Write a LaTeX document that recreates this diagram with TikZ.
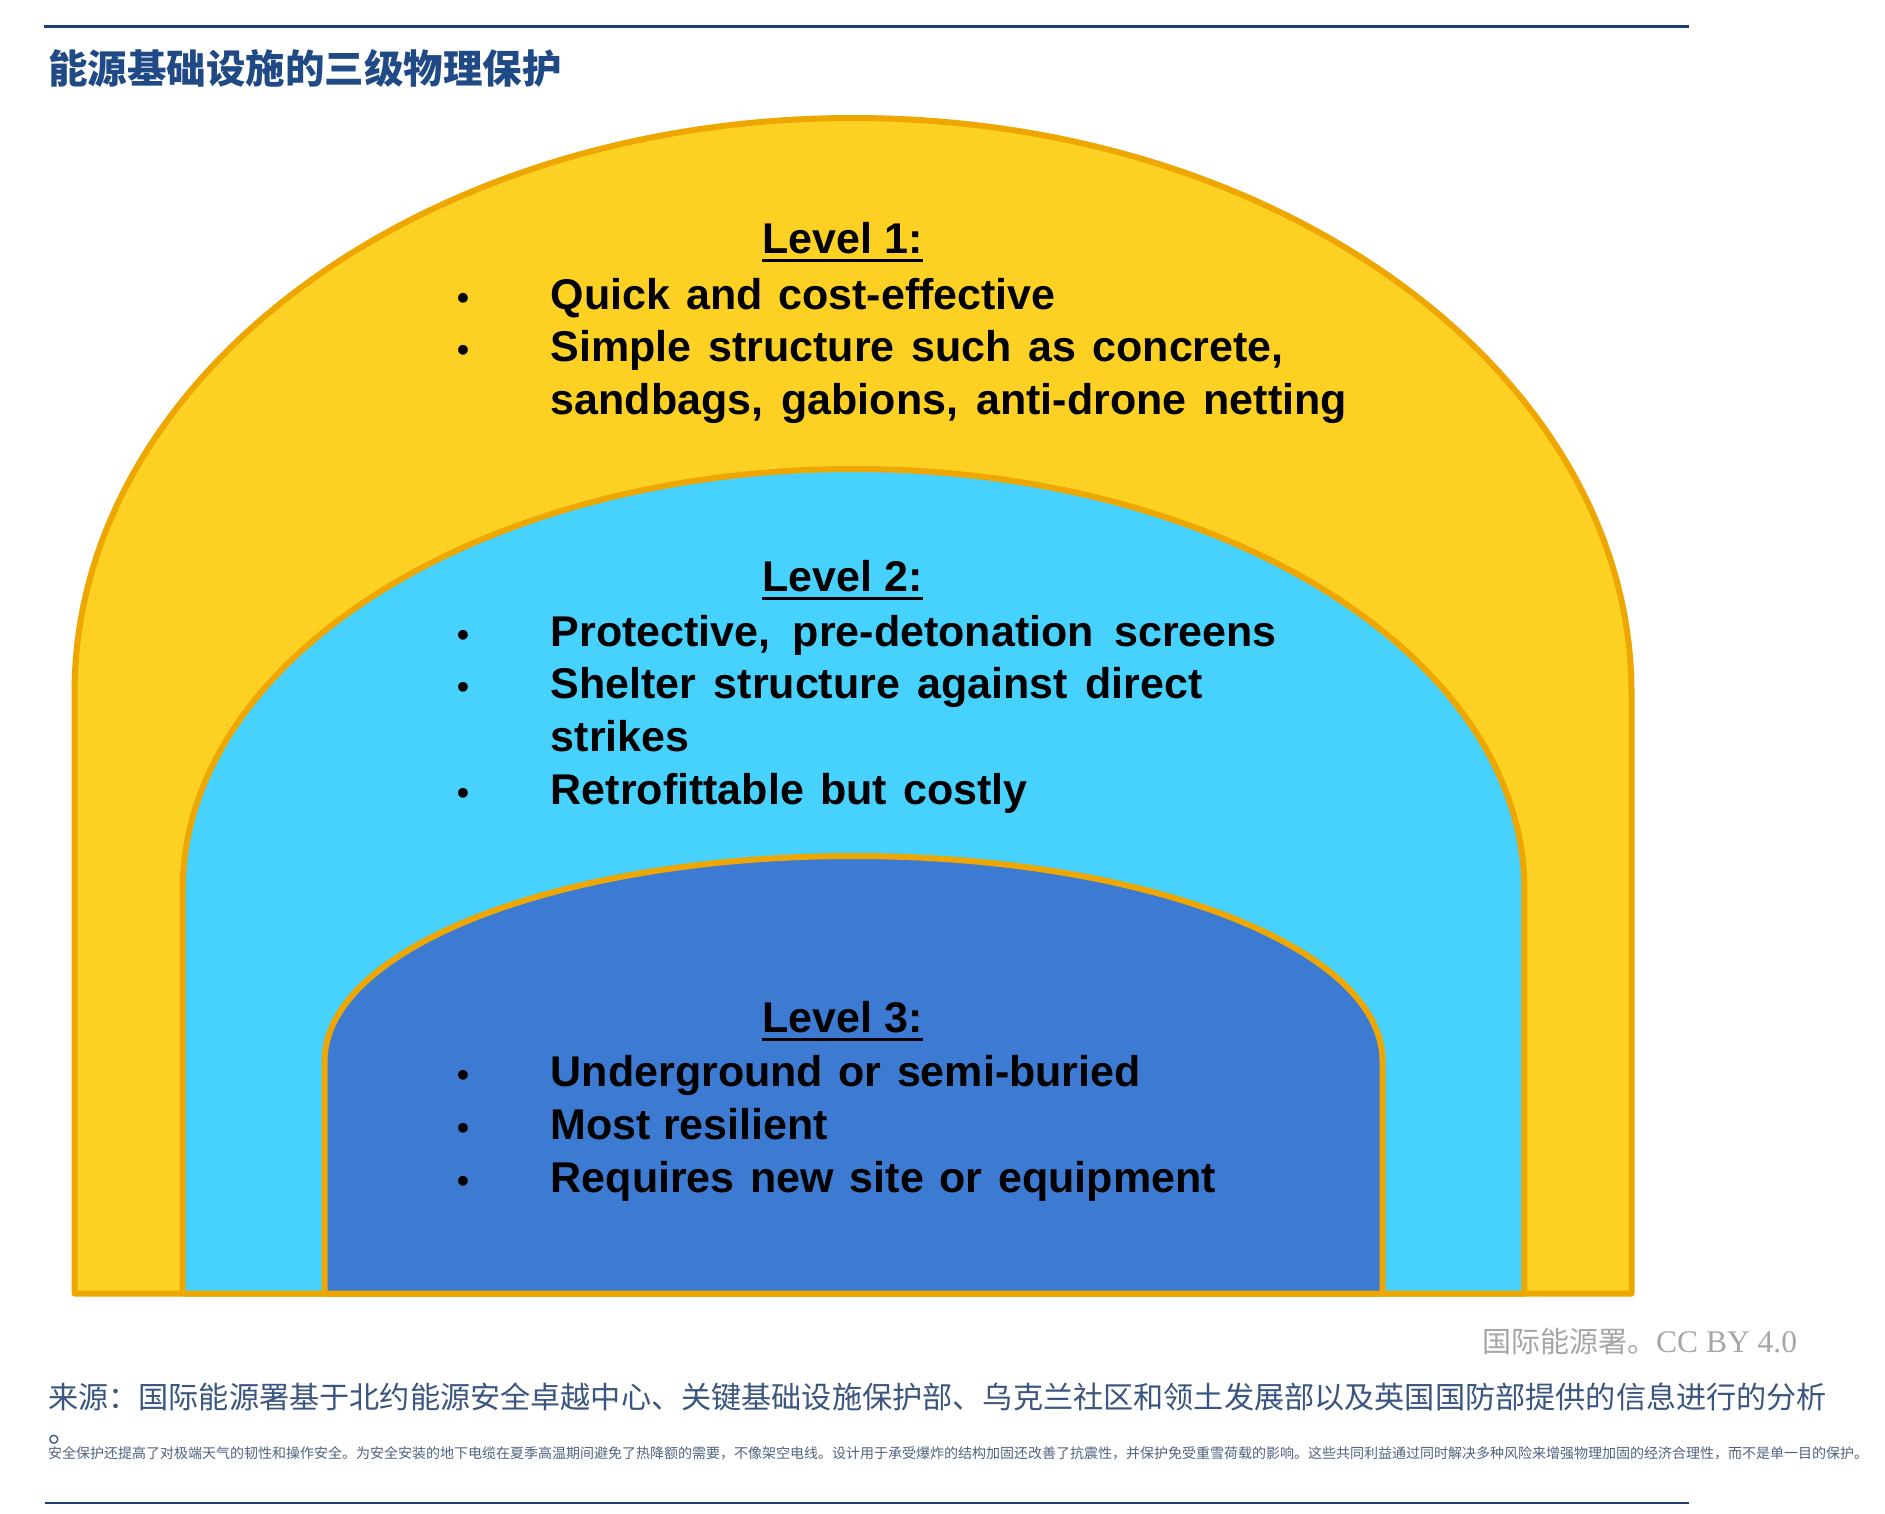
\documentclass[tikz,border=0pt]{standalone}
\usepackage{fontspec}
\setmainfont{Liberation Sans}
\newfontfamily\cjk{Noto Sans CJK SC}
\newfontfamily\seriflat{Liberation Serif}
\definecolor{yel}{HTML}{FCD123}
\definecolor{cyn}{HTML}{47D2FD}
\definecolor{blu}{HTML}{3D7BD3}
\definecolor{org}{HTML}{EEA700}
\definecolor{navy}{HTML}{1F4A85}
\definecolor{rulec}{HTML}{1F3F73}
\definecolor{srcc}{HTML}{3A5580}
\definecolor{smallc}{HTML}{51627F}
\definecolor{greyc}{HTML}{A6A6A6}
\begin{document}
\begin{tikzpicture}[x=1pt,y=1pt,
  arch/.style={draw=org, line width=6pt, line join=round},
  txt/.style={inner sep=0pt, font=\fontsize{43}{52}\selectfont\bfseries, text=black},
  hdr/.style={txt, anchor=base},
  itm/.style={txt, anchor=base west},
  bul/.style={inner sep=0pt, anchor=base, font=\fontsize{34}{40}\selectfont\bfseries, text=black},
  uline/.style={line width=3pt, black}]
\useasboundingbox (0,0) rectangle (1885,-1513);
\fill[white] (0,0) rectangle (1885,-1513);

% rules
\draw[rulec, line width=2.5pt] (44,-26.4) -- (1689,-26.4);
\draw[rulec, line width=2.5pt] (44.5,-1502.8) -- (1689,-1502.8);

% title
\node[anchor=base west, inner sep=0pt, text=navy, font=\cjk\bfseries\fontsize{39.5}{44}\selectfont] (title) at (48,-83.5) {能源基础设施的三级物理保护};

% arches
\path[arch, fill=yel] (74.5,-1293.6) -- (74.5,-693) arc[start angle=180, end angle=0, x radius=778.5pt, y radius=575pt] -- (1631.5,-1293.6) -- cycle;
\path[arch, fill=cyn] (182.7,-1293.6) -- (182.7,-890) arc[start angle=180, end angle=0, x radius=670.85pt, y radius=421pt] -- (1524.4,-1293.6) -- cycle;
\path[arch, fill=blu] (324.6,-1293.6) -- (324.6,-1061) arc[start angle=180, end angle=0, x radius=528.95pt, y radius=205pt] -- (1382.5,-1293.6) -- cycle;

% Level 1
\node[hdr] (h1) at (842.5,-253.5) {Level 1:};
\draw[uline] ([yshift=-7pt]h1.base west) -- ([yshift=-7pt]h1.base east);
\node[bul] (b11) at (463,-309) {•};
\node[itm] (t11) at (550.6,-309) {\makebox[505pt][s]{Quick and cost-effective}};
\node[bul] (b12) at (463,-361.7) {•};
\node[itm] (t12) at (550.6,-361.7) {\makebox[733pt][s]{Simple structure such as concrete,}};
\node[itm] (t13) at (550.6,-414.6) {\makebox[796pt][s]{sandbags, gabions, anti-drone netting}};

% Level 2
\node[hdr] (h2) at (842.5,-591.6) {Level 2:};
\draw[uline] ([yshift=-7pt]h2.base west) -- ([yshift=-7pt]h2.base east);
\node[bul] (b21) at (463,-646) {•};
\node[itm] (t21) at (550.6,-646) {\makebox[726pt][s]{Protective, pre-detonation screens}};
\node[bul] (b22) at (463,-698.4) {•};
\node[itm] (t22) at (550.6,-698.4) {\makebox[651.6pt][s]{Shelter structure against direct}};
\node[itm] (t23) at (550.6,-751.2) {strikes};
\node[bul] (b24) at (463,-804.5) {•};
\node[itm] (t24) at (550.6,-804.5) {\makebox[477pt][s]{Retrofittable but costly}};

% Level 3
\node[hdr] (h3) at (842.5,-1032) {Level 3:};
\draw[uline] ([yshift=-7pt]h3.base west) -- ([yshift=-7pt]h3.base east);
\node[bul] (b31) at (463,-1086.7) {•};
\node[itm] (t31) at (550.6,-1086.7) {\makebox[590pt][s]{Underground or semi-buried}};
\node[bul] (b32) at (463,-1139.4) {•};
\node[itm] (t32) at (550.6,-1139.4) {Most resilient};
\node[bul] (b33) at (463,-1192) {•};
\node[itm] (t33) at (550.6,-1192) {\makebox[665pt][s]{Requires new site or equipment}};

% credit
\node[anchor=base west, inner sep=0pt, text=greyc] (credit) at (1482,-1352.7) {{\cjk\fontsize{29}{34}\selectfont 国际能源署。}{\seriflat\fontsize{31.5}{34}\selectfont CC BY 4.0}};

% source
\node[anchor=base west, inner sep=0pt, text=srcc, font=\cjk\fontsize{30.15}{36}\selectfont] (src) at (48,-1408) {来源：国际能源署基于北约能源安全卓越中心、关键基础设施保护部、乌克兰社区和领土发展部以及英国国防部提供的信息进行的分析};
\node[anchor=base west, inner sep=0pt, text=srcc, font=\cjk\fontsize{30}{36}\selectfont] (srcdot) at (48,-1442) {。};
\node[anchor=base west, inner sep=0pt, text=smallc, font=\cjk\fontsize{14}{17}\selectfont] (note) at (48,-1458) {安全保护还提高了对极端天气的韧性和操作安全。为安全安装的地下电缆在夏季高温期间避免了热降额的需要，不像架空电线。设计用于承受爆炸的结构加固还改善了抗震性，并保护免受重雪荷载的影响。这些共同利益通过同时解决多种风险来增强物理加固的经济合理性，而不是单一目的保护。};
\end{tikzpicture}
\end{document}
